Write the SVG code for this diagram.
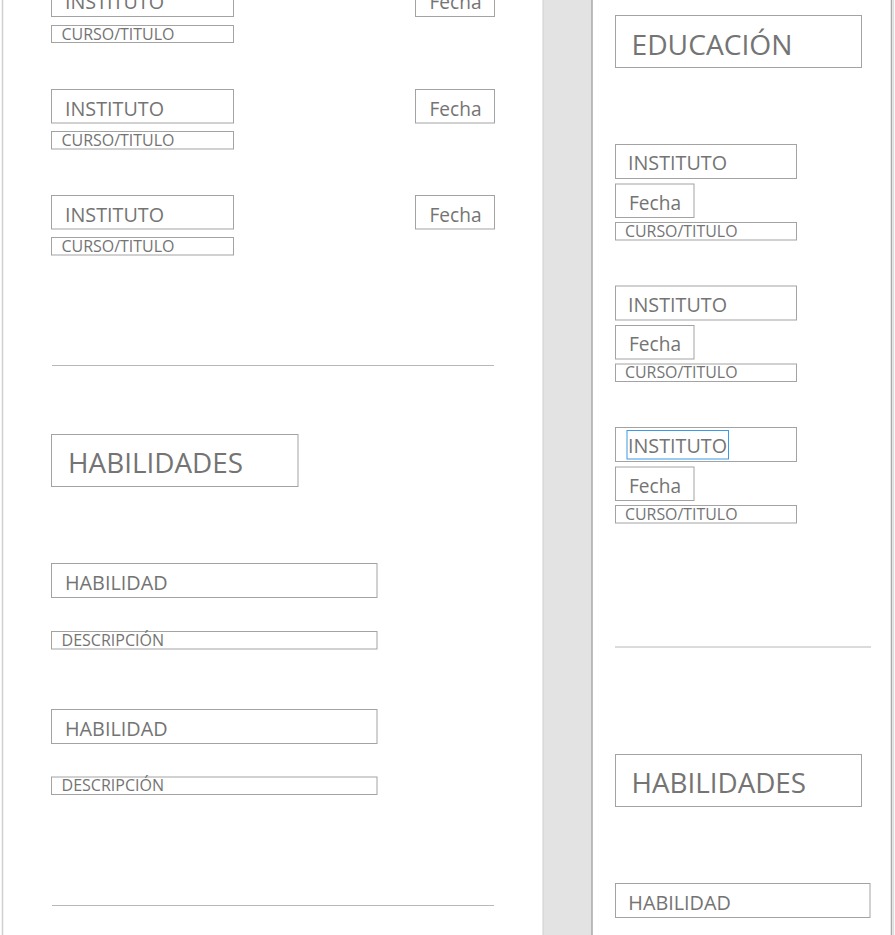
<svg xmlns="http://www.w3.org/2000/svg" width="895" height="935" viewBox="0 0 895 935">
<style>
.bx{fill:#fff;stroke:#a3a3a3;stroke-width:1}
.t{font-family:"Open Sans","Noto Sans","Liberation Sans",sans-serif;font-weight:400;fill:#747474}
.l{font-size:20px}
.s{font-size:16px}
.h{font-size:28px}
.div{stroke:#b8b8b8;stroke-width:1.2}
</style>
<rect x="0" y="0" width="895" height="935" fill="#fff"/>
<g id="pages">
<line x1="2.5" y1="0" x2="2.5" y2="935" stroke="#d0d0d0" stroke-width="1.5"/>
<rect x="543" y="0" width="49" height="935" fill="#e3e3e3"/>
<line x1="543" y1="0" x2="543" y2="935" stroke="#cfcfcf" stroke-width="1"/>
<line x1="592" y1="0" x2="592" y2="935" stroke="#a8a8a8" stroke-width="1.5"/>
<line x1="891.5" y1="0" x2="891.5" y2="935" stroke="#a8a8a8" stroke-width="1.5"/>
<line x1="893.5" y1="0" x2="893.5" y2="935" stroke="#dedede" stroke-width="1.5"/>
</g>
<g id="connectors">
<line class="div" x1="52" y1="365.5" x2="494" y2="365.5"/>
<line class="div" x1="52" y1="905.5" x2="494" y2="905.5"/>
<line class="div" x1="615" y1="647" x2="871" y2="647"/>
</g>
<g id="left-edu-1">
<rect class="bx" x="51.5" y="-17.5" width="182" height="34"/>
<text class="t l" x="65" y="8.5" textLength="99" lengthAdjust="spacingAndGlyphs">INSTITUTO</text>
<rect class="bx" x="415.5" y="-17.5" width="79" height="34"/>
<text class="t l" x="429.5" y="8.5" textLength="52" lengthAdjust="spacingAndGlyphs">Fecha</text>
<rect class="bx" x="51.5" y="25.5" width="182" height="17"/>
<text class="t s" x="61.5" y="39.5" textLength="113" lengthAdjust="spacingAndGlyphs">CURSO/TITULO</text>
</g>
<g id="left-edu-2">
<rect class="bx" x="51.5" y="89.5" width="182" height="33.5"/>
<text class="t l" x="65" y="115.5" textLength="99" lengthAdjust="spacingAndGlyphs">INSTITUTO</text>
<rect class="bx" x="415.5" y="89.5" width="79" height="33.5"/>
<text class="t l" x="429.5" y="115.5" textLength="52" lengthAdjust="spacingAndGlyphs">Fecha</text>
<rect class="bx" x="51.5" y="131.5" width="182" height="17.5"/>
<text class="t s" x="61.5" y="145.8" textLength="113" lengthAdjust="spacingAndGlyphs">CURSO/TITULO</text>
</g>
<g id="left-edu-3">
<rect class="bx" x="51.5" y="195.5" width="182" height="33.5"/>
<text class="t l" x="65" y="221.5" textLength="99" lengthAdjust="spacingAndGlyphs">INSTITUTO</text>
<rect class="bx" x="415.5" y="195.5" width="79" height="33.5"/>
<text class="t l" x="429.5" y="221.5" textLength="52" lengthAdjust="spacingAndGlyphs">Fecha</text>
<rect class="bx" x="51.5" y="237.5" width="182" height="17.5"/>
<text class="t s" x="61.5" y="251.8" textLength="113" lengthAdjust="spacingAndGlyphs">CURSO/TITULO</text>
</g>
<g id="left-habilidades">
<rect class="bx" x="51.5" y="434.5" width="246.5" height="52"/>
<text class="t h" x="68" y="472.5" textLength="175" lengthAdjust="spacingAndGlyphs">HABILIDADES</text>
</g>
<g id="left-skill-1">
<rect class="bx" x="51.5" y="563.5" width="325.5" height="34"/>
<text class="t l" x="65" y="590" textLength="102.5" lengthAdjust="spacingAndGlyphs">HABILIDAD</text>
<rect class="bx" x="51.5" y="631.5" width="325.5" height="17.5"/>
<text class="t s" x="61.5" y="645.5" textLength="102.5" lengthAdjust="spacingAndGlyphs">DESCRIPCIÓN</text>
</g>
<g id="left-skill-2">
<rect class="bx" x="51.5" y="709.5" width="325.5" height="34"/>
<text class="t l" x="65" y="735.5" textLength="102.5" lengthAdjust="spacingAndGlyphs">HABILIDAD</text>
<rect class="bx" x="51.5" y="777" width="325.5" height="17.5"/>
<text class="t s" x="61.5" y="791" textLength="102.5" lengthAdjust="spacingAndGlyphs">DESCRIPCIÓN</text>
</g>
<g id="right-educacion">
<rect class="bx" x="615.5" y="15.5" width="246" height="52"/>
<text class="t h" x="631.5" y="54.5" textLength="161" lengthAdjust="spacingAndGlyphs">EDUCACIÓN</text>
</g>
<g id="right-edu-1">
<rect class="bx" x="615.5" y="144.5" width="181" height="34"/>
<text class="t l" x="628" y="170" textLength="99" lengthAdjust="spacingAndGlyphs">INSTITUTO</text>
<rect class="bx" x="615.5" y="184" width="78.5" height="33.5"/>
<text class="t l" x="629" y="209.5" textLength="52" lengthAdjust="spacingAndGlyphs">Fecha</text>
<rect class="bx" x="615.5" y="222.5" width="181" height="17.5"/>
<text class="t s" x="625" y="236.8" textLength="112.5" lengthAdjust="spacingAndGlyphs">CURSO/TITULO</text>
</g>
<g id="right-edu-2">
<rect class="bx" x="615.5" y="286" width="181" height="34"/>
<text class="t l" x="628" y="311.5" textLength="99" lengthAdjust="spacingAndGlyphs">INSTITUTO</text>
<rect class="bx" x="615.5" y="325.5" width="78.5" height="33.5"/>
<text class="t l" x="629" y="351" textLength="52" lengthAdjust="spacingAndGlyphs">Fecha</text>
<rect class="bx" x="615.5" y="364" width="181" height="17.5"/>
<text class="t s" x="625" y="378.3" textLength="112.5" lengthAdjust="spacingAndGlyphs">CURSO/TITULO</text>
</g>
<g id="right-edu-3">
<rect class="bx" x="615.5" y="427.5" width="181" height="34"/>
<rect x="627" y="430.5" width="101.5" height="28.5" fill="none" stroke="#3a9ae6" stroke-width="1"/>
<text class="t l" x="628" y="453" textLength="99" lengthAdjust="spacingAndGlyphs">INSTITUTO</text>
<rect class="bx" x="615.5" y="467" width="78.5" height="33.5"/>
<text class="t l" x="629" y="492.5" textLength="52" lengthAdjust="spacingAndGlyphs">Fecha</text>
<rect class="bx" x="615.5" y="505.5" width="181" height="17.5"/>
<text class="t s" x="625" y="519.8" textLength="112.5" lengthAdjust="spacingAndGlyphs">CURSO/TITULO</text>
</g>
<g id="right-habilidades">
<rect class="bx" x="615.5" y="754.5" width="246" height="52"/>
<text class="t h" x="631.5" y="792.5" textLength="174.5" lengthAdjust="spacingAndGlyphs">HABILIDADES</text>
</g>
<g id="right-skill-1">
<rect class="bx" x="615.5" y="883.5" width="254.5" height="34"/>
<text class="t l" x="628.3" y="909.5" textLength="102.5" lengthAdjust="spacingAndGlyphs">HABILIDAD</text>
</g>
</svg>
